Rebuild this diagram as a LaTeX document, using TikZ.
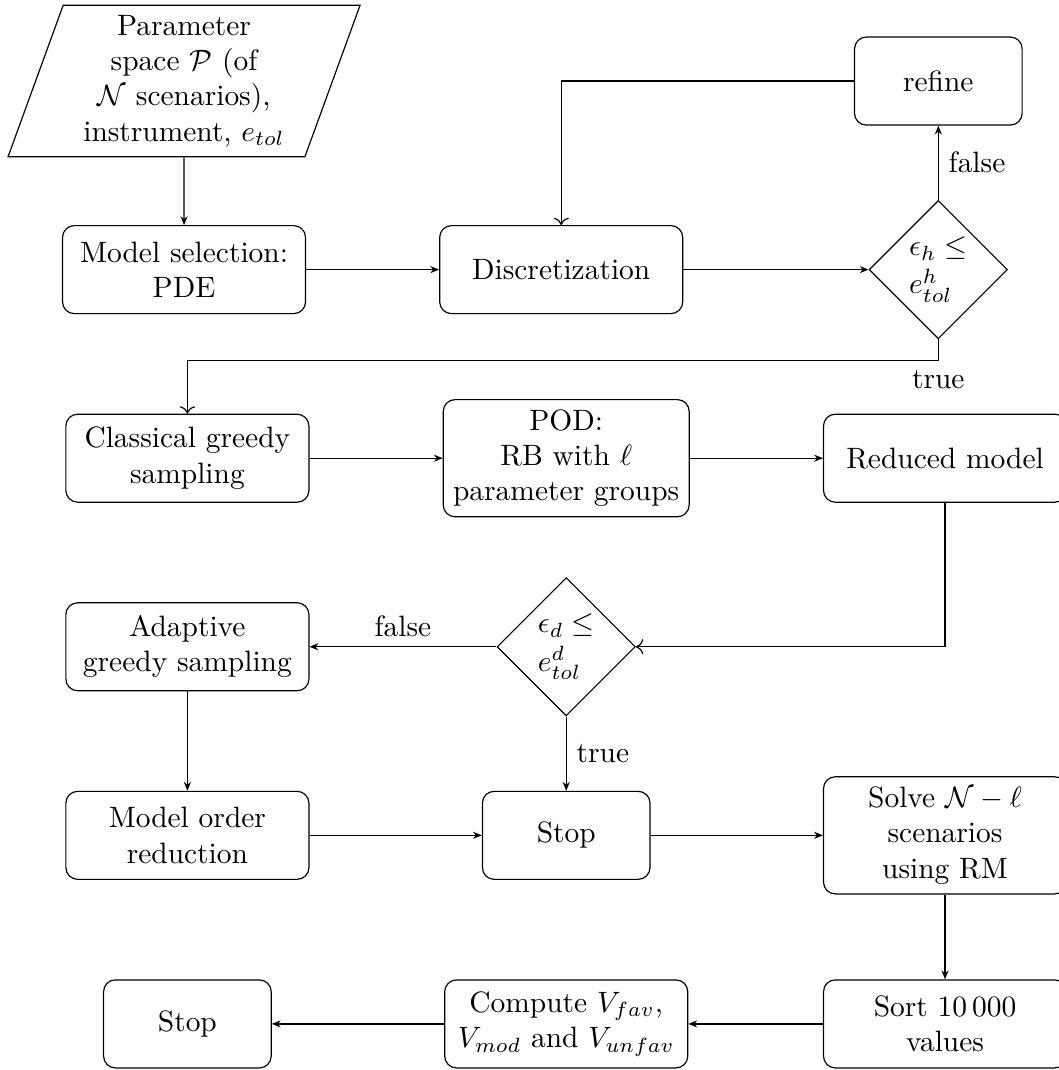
\documentclass[tikz,border=0pt]{standalone}
\usepackage{amsmath}
\usepackage{amsfonts}
\usetikzlibrary{shapes.geometric}
\usetikzlibrary{positioning,arrows.meta}

\begin{document}
\begin{tikzpicture}[>={Stealth[length=3pt,width=2.4pt]}, node distance=2.25cm and 4.5cm, on grid]
  % compact, consistent block styles
  \tikzset{block/.style={draw, rounded corners, minimum width=2.9cm, minimum height=1.05cm, align=center},
           shortblock/.style={draw, rounded corners, minimum width=2cm, minimum height=1.05cm, align=center},
           decision/.style={draw, diamond, aspect=1, inner sep=0pt, minimum width=1.65cm, minimum height=1.65cm, align=left},
           io/.style={draw, trapezium, trapezium left angle=70, trapezium right angle=110, trapezium stretches body, minimum width=4.2cm, minimum height=1.8cm, align=center}}

  \useasboundingbox (-2.196,0.967) rectangle (10.43,-11.80);

  % nodes and layout
  \node[io] (param) {Parameter\\ space $\mathcal{P}$ (of\\ $\mathcal{N}$ scenarios),\\ instrument, $e_{tol}$};
  \node[block, below=of param] (modsel) {Model selection:\\ PDE};
  \node[block, right=of modsel] (disc) {Discretization};
  \node[decision, right=of disc] (dec1) {$\epsilon_h \leq$\\[1pt] $e^h_{tol}$};
  \node[shortblock, above=of dec1] (refine) {refine};

  \node[block, below=of modsel, xshift=0.04cm] (classic) {Classical greedy\\ sampling};
  \node[block, right=of classic, xshift=0.02cm] (pod) {POD:\\ RB with $\ell$\\ parameter groups};
  \node[block, right=of pod, xshift=0.02cm] (reduced) {Reduced model};

  \node[block, below=of classic] (adaptive) {Adaptive\\ greedy sampling};
  \node[decision, below=of pod] (dec2) {$\epsilon_d \leq$\\[1pt] $e^d_{tol}$};

  \node[block, below=of adaptive] (mor) {Model order\\ reduction};
  \node[shortblock, below=of dec2] (stop1) {Stop};
  \node[block, below=of reduced, yshift=-2.25cm] (solve) {Solve $\mathcal{N}-\ell$\\ scenarios\\ using RM};

  \node[shortblock, below=of mor] (stop2) {Stop};
  \node[block, below=of stop1] (compute) {Compute $V_{fav}$,\\ $V_{mod}$ and $V_{unfav}$};
  \node[block, below=of solve] (sort) {Sort 10\,000\\ values};

  % arrows and the decision labels
  \draw[->] (param) -- (modsel);
  \draw[->] (modsel) -- (disc);
  \draw[->] (disc) -- (dec1);
  \draw[->] (dec1) -- node[right] {false} (refine);
  \draw[-To] (refine.west) -| (disc.north);
  \draw[-To] (dec1.south) -- ++(0,-0.25) node[below] {true} -| (classic.north);

  \draw[->] (classic) -- (pod);
  \draw[->] (pod) -- (reduced);
  \draw[-To] (reduced.south) |- (dec2.east);
  \draw[->] (dec2) -- node[above] {false} (adaptive);
  \draw[->] (dec2) -- node[right] {true} (stop1);

  \draw[->] (adaptive) -- (mor);
  \draw[->] (mor) -- (stop1);
  \draw[->] (stop1) -- (solve);
  \draw[->] (solve) -- (sort);
  \draw[->] (sort) -- (compute);
  \draw[->] (compute) -- (stop2);
\end{tikzpicture}
\end{document}
